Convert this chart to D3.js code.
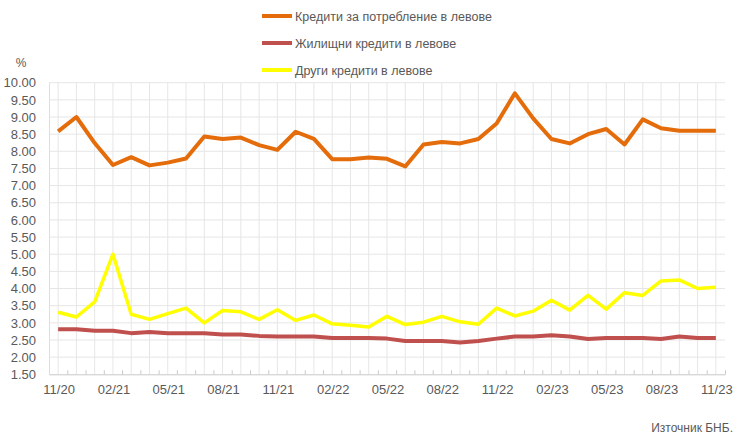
<!DOCTYPE html>
<html>
<head>
<meta charset="utf-8">
<script src="https://cdn.jsdelivr.net/npm/d3@7"></script>
<style>
  body { margin: 0; background: #fff; }
  svg { display: block; font-family: "Liberation Sans", Arial, sans-serif; }
</style>
</head>
<body>
<script>
// months 11/20 .. 11/23
const months = ["11/20","12/20","01/21","02/21","03/21","04/21","05/21","06/21","07/21","08/21","09/21","10/21",
  "11/21","12/21","01/22","02/22","03/22","04/22","05/22","06/22","07/22","08/22","09/22","10/22",
  "11/22","12/22","01/23","02/23","03/23","04/23","05/23","06/23","07/23","08/23","09/23","10/23","11/23"]
const tickLabels = ["11/20","02/21","05/21","08/21","11/21","02/22","05/22","08/22","11/22","02/23","05/23","08/23","11/23"]
const yTicks = [1.5,2,2.5,3,3.5,4,4.5,5,5.5,6,6.5,7,7.5,8,8.5,9,9.5,10]

const consumer = [8.58,9.00,8.24,7.60,7.83,7.59,7.67,7.79,8.43,8.36,8.40,8.18,8.04,8.57,8.36,7.77,7.77,7.82,7.78,7.56,
  8.20,8.27,8.23,8.36,8.81,9.69,8.96,8.36,8.23,8.50,8.65,8.20,8.93,8.67,8.60,8.60,8.60]
const housing = [2.81,2.81,2.77,2.77,2.70,2.73,2.70,2.70,2.70,2.66,2.66,2.62,2.60,2.60,2.60,2.56,2.56,2.56,2.54,2.47,
  2.47,2.47,2.43,2.47,2.54,2.60,2.60,2.64,2.60,2.53,2.56,2.56,2.56,2.53,2.60,2.56,2.56]
const other = [3.31,3.17,3.61,5.00,3.25,3.10,3.27,3.43,3.00,3.36,3.32,3.10,3.38,3.07,3.23,2.97,2.93,2.88,3.19,2.95,
  3.02,3.19,3.03,2.96,3.43,3.20,3.34,3.66,3.37,3.80,3.40,3.88,3.80,4.22,4.25,4.00,4.04]

const seriesNames = ["Кредити за потребление в левове","Жилищни кредити в левове","Други кредити в левове"]
const seriesColors = ["#e46c0a","#c0504d","#ffff00"]
const seriesData = [consumer, housing, other]

let w = 740, h = 441
let pLeft = 49, pRight = 725, pTop = 82.7, pBottom = 374.3

let svg = d3.select("body").append("svg")
    .attr("width", w)
    .attr("height", h)

let x = d3.scalePoint().domain(months).range([pLeft, pRight]).padding(0.5)
let y = d3.scaleLinear().domain([1.5, 10]).range([pBottom, pTop])

//grid
svg.append("g").selectAll("line")
    .data(yTicks.slice(1))
    .enter().append("line")
    .attr("x1", pLeft).attr("x2", pRight)
    .attr("y1", d=>y(d)).attr("y2", d=>y(d))
    .attr("stroke", "#e6e6e6").attr("stroke-width", 1)
svg.append("g").selectAll("line")
    .data(months)
    .enter().append("line")
    .attr("x1", d=>x(d)).attr("x2", d=>x(d))
    .attr("y1", pTop).attr("y2", pBottom)
    .attr("stroke", "#e6e6e6").attr("stroke-width", 1)

//axes
let yAxis = d3.axisLeft(y).tickValues(yTicks).tickFormat(d3.format(".2f")).tickSize(0).tickPadding(13)
let yg = svg.append("g")
    .attr("transform", "translate(" + pLeft + ",0)")
    .call(yAxis)
yg.select(".domain").attr("stroke", "#d6dfee")
yg.selectAll("text").attr("fill", "#595959").attr("font-size", 13)

let xb = d3.scaleLinear().domain([0, months.length]).range([pLeft, pRight])
let xAxis = d3.axisBottom(xb).tickValues(d3.range(1, months.length + 1)).tickFormat("").tickSizeInner(-4).tickSizeOuter(0)
let xg = svg.append("g")
    .attr("transform", "translate(0," + pBottom + ")")
    .call(xAxis)
xg.select(".domain").attr("stroke", "#c8c8c8")
xg.selectAll(".tick line").attr("stroke", "#c8c8c8")

svg.append("g").selectAll("text")
    .data(tickLabels)
    .enter().append("text")
    .attr("x", d=>x(d) + 1)
    .attr("y", pBottom + 20)
    .attr("text-anchor", "middle")
    .attr("fill", "#595959")
    .attr("font-size", 13)
    .text(d=>d)

svg.append("text")
    .attr("x", 21).attr("y", 67)
    .attr("text-anchor", "middle")
    .attr("fill", "#595959").attr("font-size", 12)
    .text("%")

//lines
let line = d3.line().x((d,i)=>x(months[i])).y(d=>y(d))
seriesData.forEach((s, k)=>{
    svg.append("path")
        .datum(s)
        .attr("d", line)
        .attr("fill", "none")
        .attr("stroke", seriesColors[k])
        .attr("stroke-width", k == 2 ? 3.5 : 4)
        .attr("stroke-linejoin", "round")
})

//legend
let legend = svg.append("g")
seriesNames.forEach((n, k)=>{
    let ly = 16 + k * 27
    legend.append("line")
        .attr("x1", 262).attr("x2", 292)
        .attr("y1", ly).attr("y2", ly)
        .attr("stroke", seriesColors[k]).attr("stroke-width", 4)
    legend.append("text")
        .attr("x", 295).attr("y", ly + 4.5)
        .attr("fill", "#595959").attr("font-size", 12.5)
        .text(n)
})

svg.append("text")
    .attr("x", 733).attr("y", 432)
    .attr("text-anchor", "end")
    .attr("fill", "#595959").attr("font-size", 12)
    .text("Източник БНБ.")
</script>
</body>
</html>
